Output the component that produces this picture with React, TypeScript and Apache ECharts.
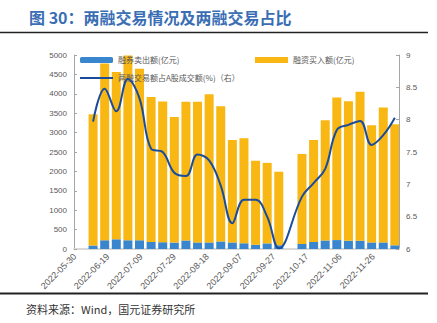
import React, { useEffect, useRef } from "react";
import * as echarts from "echarts";

// Weekly (Friday) observation dates; the National Day week (2022-10-07) has no data
const weekDates = [
  "2022-06-10", "2022-06-17", "2022-06-24", "2022-07-01", "2022-07-08", "2022-07-15",
  "2022-07-22", "2022-07-29", "2022-08-05", "2022-08-12", "2022-08-19", "2022-08-26",
  "2022-09-02", "2022-09-09", "2022-09-16", "2022-09-23", "2022-09-30",
  "2022-10-14", "2022-10-21", "2022-10-28", "2022-11-04", "2022-11-11", "2022-11-18",
  "2022-11-25", "2022-12-02", "2022-12-09",
];

// 融券卖出额(亿元)
const shortSell = [
  90, 225, 250, 225, 225, 180, 175, 165, 220, 170, 170, 195, 170, 148, 110, 145, 97,
  130, 180, 220, 230, 215, 215, 170, 170, 95,
];

// 融资买入额(亿元)
const financingBuy = [
  3385, 4555, 4310, 4765, 4420, 3740, 3625, 3240, 3575, 3625, 3820, 3485, 2640, 2705, 2165, 2075, 1895,
  2320, 2630, 3100, 3675, 3595, 3835, 3020, 3475, 3120,
];

// 两融交易额占A股成交额(%)
const marginShare = [
  7.97, 8.48, 8.13, 8.63, 8.33, 7.55, 7.5, 7.18, 7.13, 7.46, 7.37, 6.98, 6.4, 6.76, 6.76, 6.5, 6.01,
  6.81, 7.02, 7.24, 7.84, 7.92, 7.98, 7.61, 7.76, 8.03,
];

// x-axis tick labels (one every 20 days)
const xTickLabels = [
  "2022-05-30", "2022-06-19", "2022-07-09", "2022-07-29", "2022-08-18",
  "2022-09-07", "2022-09-27", "2022-10-17", "2022-11-06", "2022-11-26",
];

// date axis range (daily categories)
const axisFirstDay = "2022-05-30";
const axisDayCount = 196;

const leftTicks = { min: 0, max: 5000, interval: 500 };
const rightTicks = { min: 6, max: 9, interval: 0.5 };

const BLUE = "#3A86CE";
const YELLOW = "#F8B712";
const LINE = "#1A4C9C";
const GRAY = "#595959";
const FONT = "'Noto Sans CJK SC', 'Noto Sans', sans-serif";
const NUMFONT = "'Liberation Sans', Arial, sans-serif";

function buildDays(): string[] {
  const start = Date.parse(axisFirstDay + "T00:00:00Z");
  const out: string[] = [];
  for (let i = 0; i < axisDayCount; i++) {
    out.push(new Date(start + i * 86400000).toISOString().slice(0, 10));
  }
  return out;
}

export default function App() {
  const ref = useRef<HTMLDivElement>(null);

  useEffect(() => {
    if (!ref.current) return;
    const chart = echarts.init(ref.current, null, { renderer: "svg" });
    const days = buildDays();
    const align = (vals: number[]) =>
      days.map((d) => {
        const i = weekDates.indexOf(d);
        return i >= 0 ? vals[i] : null;
      });

    const legendText = { color: GRAY, fontSize: 8, fontFamily: FONT };

    const option: any = {
      animation: false,
      backgroundColor: "#ffffff",
      textStyle: { fontFamily: FONT },
      title: {
        text: "图 30：两融交易情况及两融交易占比",
        left: 29,
        top: 9,
        padding: 0,
        textStyle: { color: "#3A6EB4", fontSize: 16, fontWeight: "bold", fontFamily: FONT },
      },
      graphic: [
        { type: "line", shape: { x1: 0, y1: 32.5, x2: 428, y2: 32.5 }, style: { stroke: "#222", lineWidth: 1.5 } },
        { type: "line", shape: { x1: 0, y1: 293.5, x2: 428, y2: 293.5 }, style: { stroke: "#222", lineWidth: 2 } },
        {
          type: "text",
          x: 26,
          y: 309,
          style: {
            text: "资料来源：Wind，国元证券研究所",
            fontSize: 11,
            fill: "#333",
            fontFamily: FONT,
            verticalAlign: "middle",
          },
        },
      ],
      legend: [
        {
          left: 80, top: 56, padding: 0, itemWidth: 33, itemHeight: 6, itemGap: 0,
          data: [{ name: "融券卖出额(亿元)", icon: "roundRect" }],
          textStyle: legendText,
        },
        {
          left: 255, top: 56, padding: 0, itemWidth: 33, itemHeight: 6, itemGap: 0,
          data: [{ name: "融资买入额(亿元)", icon: "rect" }],
          textStyle: legendText,
        },
        {
          left: 80, top: 74, padding: 0, itemWidth: 33, itemHeight: 2, itemGap: 0,
          data: [{ name: "两融交易额占A股成交额(%)（右）", icon: "rect" }],
          textStyle: legendText,
        },
      ],
      grid: { left: 74, right: 38, top: 55, bottom: 74, containLabel: false },
      xAxis: {
        type: "category",
        data: days,
        boundaryGap: true,
        splitLine: { show: false },
        axisTick: { show: false },
        axisLine: { show: true, lineStyle: { color: "#d9d9d9", width: 2 } },
        axisLabel: {
          rotate: 45,
          interval: 19,
          fontSize: 9,
          color: GRAY,
          fontFamily: NUMFONT,
          margin: 6,
          formatter: (v: string) => (xTickLabels.indexOf(v) >= 0 ? v : ""),
        },
      },
      yAxis: [
        {
          type: "value",
          ...leftTicks,
          splitLine: { show: false },
          axisLine: { show: true, lineStyle: { color: "#a6a6a6" } },
          axisTick: { show: true, inside: true, length: 3, lineStyle: { color: "#a6a6a6" } },
          axisLabel: { fontSize: 8, color: GRAY, margin: 7, fontFamily: NUMFONT, formatter: (v: number) => String(v) },
        },
        {
          type: "value",
          ...rightTicks,
          splitLine: { show: false },
          axisLine: { show: true, lineStyle: { color: "#a6a6a6" } },
          axisTick: { show: true, inside: true, length: 3, lineStyle: { color: "#a6a6a6" } },
          axisLabel: { fontSize: 8, color: GRAY, margin: 7, fontFamily: NUMFONT, formatter: (v: number) => String(v) },
        },
      ],
      series: [
        {
          name: "融券卖出额(亿元)",
          type: "bar",
          stack: "total",
          barWidth: 9,
          itemStyle: { color: BLUE },
          data: align(shortSell),
          z: 2,
        },
        {
          name: "融资买入额(亿元)",
          type: "bar",
          stack: "total",
          barWidth: 9,
          itemStyle: { color: YELLOW },
          data: align(financingBuy),
          z: 2,
        },
        {
          name: "两融交易额占A股成交额(%)（右）",
          type: "line",
          yAxisIndex: 1,
          smooth: 0.4,
          connectNulls: true,
          symbol: "none",
          showSymbol: false,
          lineStyle: { color: LINE, width: 2 },
          itemStyle: { color: LINE },
          data: align(marginShare),
          z: 5,
        },
      ],
    };

    chart.setOption(option);
    return () => chart.dispose();
  }, []);

  return (
    <div
      ref={ref}
      style={{ position: "fixed", left: 0, top: 0, width: 437, height: 323, background: "#fff" }}
    />
  );
}
